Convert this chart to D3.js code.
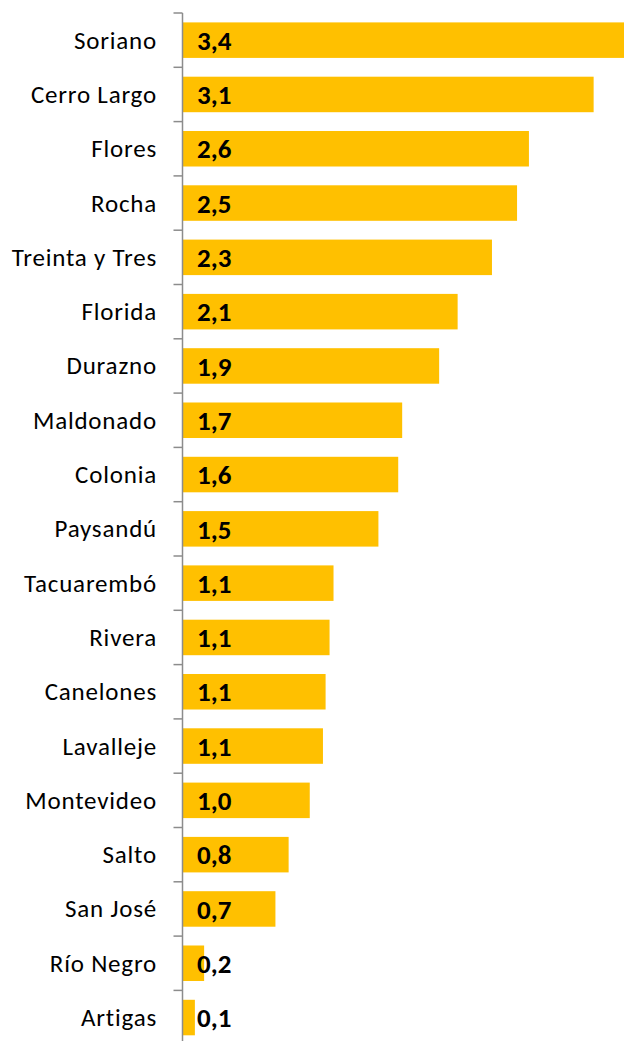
<!DOCTYPE html>
<html>
<head>
<meta charset="utf-8">
<script src="https://cdn.jsdelivr.net/npm/d3@7"></script>
<style>
  html, body { margin: 0; padding: 0; background: #fff; }
  svg { display: block; }
</style>
</head>
<body>
<div id="chart"></div>
<script>
// departamentos, de arriba hacia abajo
const departments = [
    "Soriano", "Cerro Largo", "Flores", "Rocha", "Treinta y Tres", "Florida",
    "Durazno", "Maldonado", "Colonia", "Paysandú", "Tacuarembó", "Rivera",
    "Canelones", "Lavalleje", "Montevideo", "Salto", "San José", "Río Negro", "Artigas"
];
const values = [
    3.42, 3.11, 2.62, 2.53, 2.34, 2.08,
    1.94, 1.66, 1.63, 1.48, 1.14, 1.11,
    1.08, 1.06, 0.96, 0.80, 0.70, 0.16, 0.09
];

function drawChart() {
    const width = 624;
    const height = 1041;
    const margin = { top: 13, left: 183 };
    const step = 54.3;

    const data = departments.map((d, i) => ({ name: d, value: values[i] }));

    const svg = d3.select("#chart")
        .append("svg")
        .attr("width", width)
        .attr("height", height);

    const x = d3.scaleLinear()
        .domain([0, 3.34])
        .range([margin.left, width]);

    const y = d3.scaleBand()
        .domain(departments)
        .range([margin.top, margin.top + step * departments.length])
        .paddingInner(0.346)
        .paddingOuter(0.173);

    // barras
    svg.selectAll("rect.bar")
        .data(data)
        .enter()
        .append("rect")
        .attr("class", "bar")
        .attr("x", x(0))
        .attr("y", d => y(d.name))
        .attr("width", d => x(d.value) - x(0))
        .attr("height", y.bandwidth())
        .attr("fill", "#FFC000");

    // eje vertical con marcas entre categorías
    const axisX = margin.left - 0.5;
    const axis = svg.append("g").attr("stroke", "#8c8c8c").attr("stroke-width", 1.5);
    axis.append("line")
        .attr("x1", axisX).attr("x2", axisX)
        .attr("y1", margin.top).attr("y2", height);
    const tickYs = departments.map(d => y(d) - y.step() * y.paddingInner() / 2);
    tickYs[0] = margin.top;
    axis.selectAll("line.tick")
        .data(tickYs)
        .enter()
        .append("line")
        .attr("class", "tick")
        .attr("x1", axisX - 9).attr("x2", axisX)
        .attr("y1", d => d).attr("y2", d => d);

    // nombres
    svg.selectAll("text.name")
        .data(data)
        .enter()
        .append("text")
        .attr("class", "name")
        .attr("x", 157)
        .attr("y", d => y(d.name) + y.bandwidth() / 2)
        .attr("dy", "0.34em")
        .attr("text-anchor", "end")
        .style("font-family", "Carlito, Lato, sans-serif")
        .style("font-size", "25px")
        .style("letter-spacing", "0.8px")
        .style("fill", "#000")
        .text(d => d.name);

    // etiquetas de valor
    const fmt = d3.format(".1f");
    svg.selectAll("text.val")
        .data(data)
        .enter()
        .append("text")
        .attr("class", "val")
        .attr("x", x(0) + 14)
        .attr("y", d => y(d.name) + y.bandwidth() / 2)
        .attr("dy", "0.36em")
        .style("font-family", "Carlito, Lato, sans-serif")
        .style("font-weight", "bold")
        .style("font-size", "27px")
        .style("fill", "#000")
        .text(d => fmt(d.value).replace(".", ","));
}

drawChart();
</script>
</body>
</html>
